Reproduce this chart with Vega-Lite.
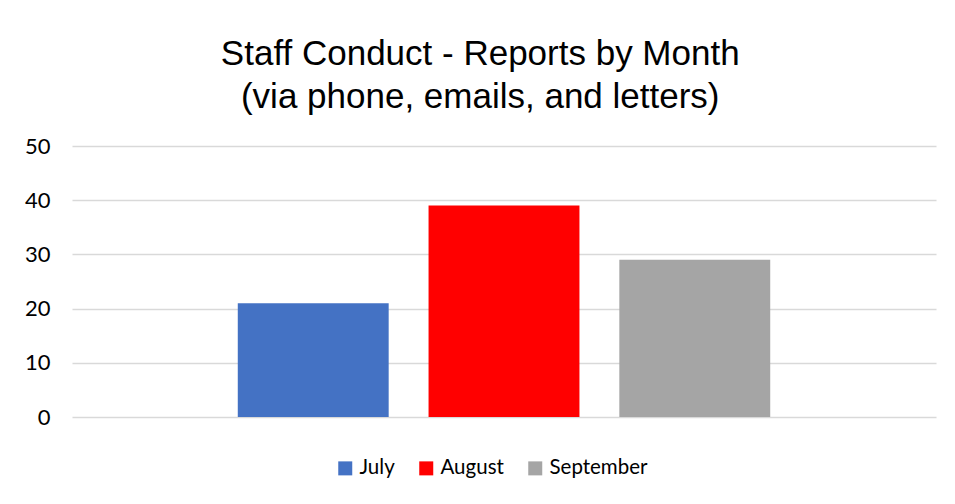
{
  "$schema": "https://vega.github.io/schema/vega-lite/v6.json",
  "width": 864,
  "height": 271,
  "autosize": {"type": "none"},
  "padding": {"left": 72, "top": 146, "right": 19, "bottom": 87},
  "background": "white",
  "title": {
    "text": ["Staff Conduct - Reports by Month", "(via phone, emails, and letters)"],
    "font": "Liberation Sans",
    "fontSize": 35,
    "fontWeight": "normal",
    "color": "#000000",
    "lineHeight": 43,
    "anchor": "middle",
    "frame": "bounds",
    "offset": 20
  },
  "data": {
    "values": [
      {"month": "July", "reports": 21},
      {"month": "August", "reports": 39},
      {"month": "September", "reports": 29}
    ]
  },
  "mark": {"type": "bar"},
  "encoding": {
    "x": {
      "field": "month",
      "type": "nominal",
      "sort": ["July", "August", "September"],
      "scale": {"paddingInner": 0.209, "paddingOuter": 0.869},
      "axis": null
    },
    "y": {
      "field": "reports",
      "type": "quantitative",
      "scale": {"domain": [0, 50]},
      "axis": {
        "title": null,
        "values": [0, 10, 20, 30, 40, 50],
        "domain": false,
        "ticks": false,
        "labelFont": "Lato",
        "labelFontSize": 22,
        "labelColor": "#000000",
        "labelPadding": 22,
        "gridColor": "#d9d9d9",
        "gridWidth": 1.5
      }
    },
    "color": {
      "field": "month",
      "type": "nominal",
      "sort": ["July", "August", "September"],
      "scale": {"domain": ["July", "August", "September"], "range": ["#4472c4", "#ff0000", "#a5a5a5"]},
      "legend": {
        "title": null,
        "orient": "none",
        "direction": "horizontal",
        "legendX": 263,
        "legendY": 312,
        "symbolType": "square",
        "symbolSize": 196,
        "symbolStrokeWidth": 0,
        "symbolOpacity": 1,
        "labelFont": "Lato",
        "labelFontSize": 20.5,
        "labelColor": "#000000",
        "labelOffset": 4,
        "columnPadding": 21
      }
    }
  },
  "config": {
    "view": {"stroke": null}
  }
}
